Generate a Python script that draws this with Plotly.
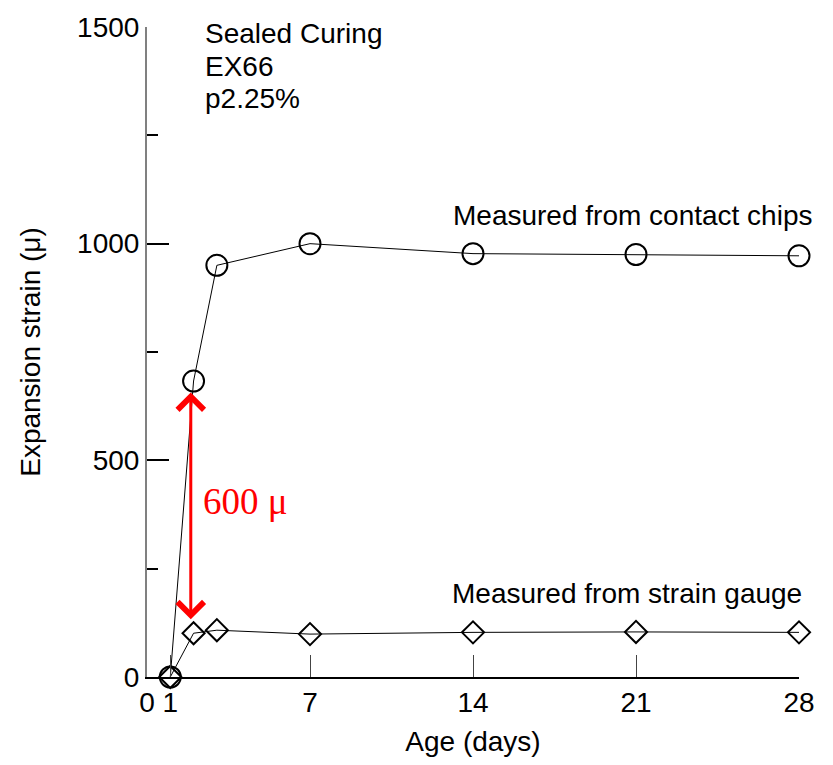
import plotly.graph_objects as go

# Curing age in days
age_days = [1, 2, 3, 7, 14, 21, 28]
# Expansion strain (micro-strain)
contact_chips = [0, 683, 950, 1000, 977, 975, 972]
strain_gauge = [0, 101, 108, 99, 103, 104, 103]

x_ticks = [0, 1, 7, 14, 21, 28]
y_ticks = [0, 500, 1000, 1500]
gap_label = "600 μ"
condition_lines = ["Sealed Curing", "EX66", "p2.25%"]

FONT = "Arial, Liberation Sans, sans-serif"
FS = 28

fig = go.Figure()

fig.add_trace(go.Scatter(
    x=age_days, y=contact_chips, mode="lines+markers",
    line=dict(color="black", width=1),
    marker=dict(symbol="circle-open", size=21, color="black", line=dict(width=2)),
    cliponaxis=False, showlegend=False,
))
fig.add_trace(go.Scatter(
    x=age_days, y=strain_gauge, mode="lines+markers",
    line=dict(color="black", width=1),
    marker=dict(symbol="diamond-open", size=17, color="black", line=dict(width=2)),
    cliponaxis=False, showlegend=False,
))

# double-headed arrow spanning the gap at day 2
arrow_x = 1.88
fig.add_annotation(
    x=arrow_x, y=strain_gauge[1], ax=arrow_x, ay=contact_chips[1],
    xref="x", yref="y", axref="x", ayref="y",
    showarrow=True, arrowhead=4, startarrowhead=4, arrowside="end+start",
    arrowsize=1.7, startarrowsize=1.7, arrowwidth=3, arrowcolor="red",
    standoff=14, startstandoff=10, text="",
)
fig.add_annotation(
    x=2.3, y=405, xref="x", yref="y",
    text=gap_label, showarrow=False, xanchor="left", yanchor="middle",
    font=dict(family="Liberation Serif, Times New Roman, serif", size=37, color="red"),
)

# curing condition block, one line per annotation
for line_text, yv in zip(condition_lines, [1484, 1410, 1334]):
    fig.add_annotation(
        x=2.4, y=yv, xref="x", yref="y", xanchor="left", yanchor="middle",
        text=line_text, showarrow=False,
        font=dict(family=FONT, size=FS, color="black"),
    )

fig.add_annotation(
    x=20.85, y=1066, xref="x", yref="y", xanchor="center", yanchor="middle",
    text="Measured from contact chips", showarrow=False,
    font=dict(family=FONT, size=FS, color="black"),
)
fig.add_annotation(
    x=20.6, y=193, xref="x", yref="y", xanchor="center", yanchor="middle",
    text="Measured from strain gauge", showarrow=False,
    font=dict(family=FONT, size=FS, color="black"),
)

fig.update_xaxes(
    range=[0, 28], tickvals=x_ticks, ticktext=[str(v) for v in x_ticks],
    ticks="inside", ticklen=22, tickwidth=1, tickcolor="#444",
    showline=True, linecolor="black", linewidth=1.5,
    showgrid=False, zeroline=False,
    tickfont=dict(family=FONT, size=FS, color="black"),
    title=dict(text="Age (days)", font=dict(family=FONT, size=FS, color="black"), standoff=14),
)
fig.update_yaxes(
    range=[0, 1500], tickvals=y_ticks,
    ticks="inside", ticklen=22, tickwidth=1.5, tickcolor="black",
    minor=dict(tickvals=[250, 750, 1250], ticks="inside", ticklen=11,
               tickwidth=1.5, tickcolor="black"),
    showline=True, linecolor="#808080", linewidth=2,
    showgrid=False, zeroline=False,
    tickfont=dict(family=FONT, size=FS, color="black"),
    title=dict(text="Expansion strain (μ)", font=dict(family=FONT, size=FS, color="black"), standoff=28),
)

fig.update_layout(
    width=833, height=765,
    margin=dict(l=147, r=34, t=23, b=88),
    plot_bgcolor="white", paper_bgcolor="white",
)

fig.write_html("out.html")
